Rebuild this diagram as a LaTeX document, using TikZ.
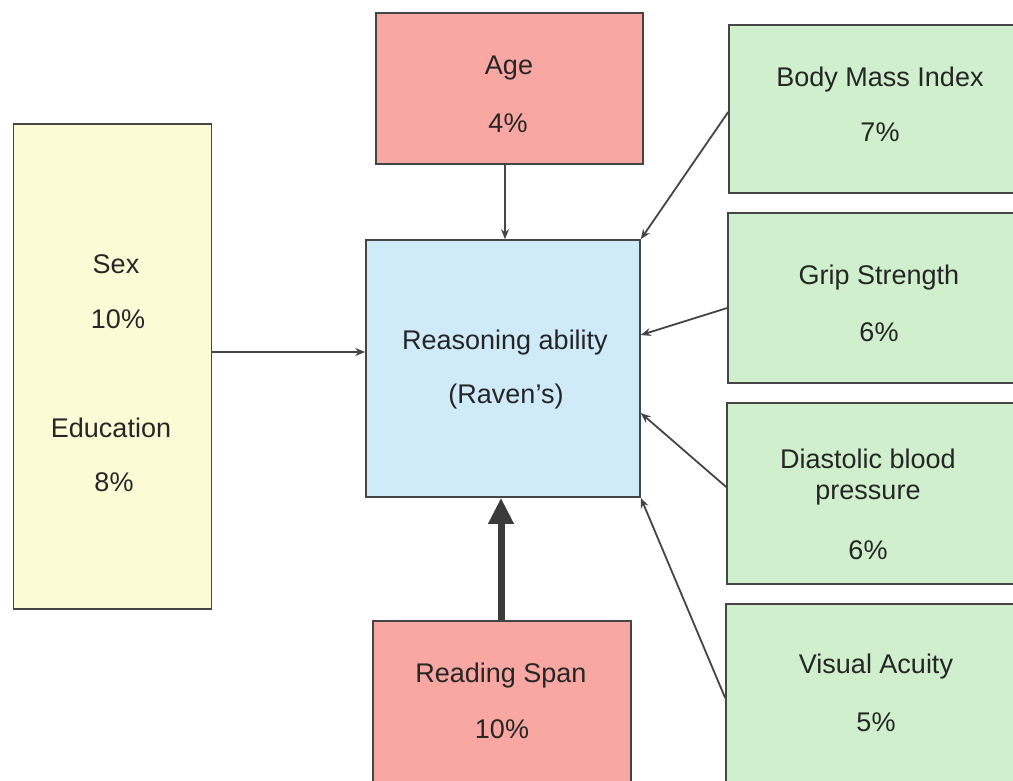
\documentclass[tikz,border=0pt]{standalone}
\usepackage{fontspec}
\setmainfont{Liberation Sans}
\usetikzlibrary{arrows.meta,calc}

\definecolor{edgegray}{HTML}{454545}
\definecolor{inkgray}{HTML}{262626}
\definecolor{pinkfill}{HTML}{F8A7A2}
\definecolor{greenfill}{HTML}{CFEFCD}
\definecolor{bluefill}{HTML}{CFEAF8}
\definecolor{yellowfill}{HTML}{FDFBD6}

\tikzset{
  box/.style={draw=edgegray, line width=1.6pt, rectangle, inner sep=0pt},
  label/.style={text=inkgray, font=\fontsize{27}{32}\selectfont, inner sep=0pt, anchor=center},
  link/.style={draw=edgegray, line width=1.8pt, -{Stealth[length=10pt,width=8pt]}},
  heavylink/.style={draw=edgegray!85!black, line width=7pt, -{Triangle[length=26pt,width=24pt]}}
}

\begin{document}
\begin{tikzpicture}[x=1pt,y=-1pt]
  \useasboundingbox (0,0) rectangle (1013,781);
  \clip (0,0) rectangle (1013,781);
  \fill[white] (0,0) rectangle (1013,781);

  % boxes (corner coordinates in picture units)
  \node[box, fill=yellowfill, minimum width=198pt, minimum height=485pt] (yellow) at (112.5,366.5) {};
  \node[box, fill=pinkfill, minimum width=267pt, minimum height=151pt] (age) at (509.5,88.5) {};
  \node[box, fill=bluefill, minimum width=274pt, minimum height=257pt] (reason) at (503,368.5) {};
  \node[box, fill=pinkfill, minimum width=258pt, minimum height=200pt] (reading) at (502,721) {};
  \node[box, fill=greenfill, minimum width=302pt, minimum height=168pt] (bmi) at (880,109) {};
  \node[box, fill=greenfill, minimum width=302pt, minimum height=170pt] (grip) at (879,298) {};
  \node[box, fill=greenfill, minimum width=304pt, minimum height=181pt] (dbp) at (879,493.5) {};
  \node[box, fill=greenfill, minimum width=305pt, minimum height=216pt] (visual) at (878.5,712) {};

  % texts
  \node[label] (sexT) at (116,264) {Sex};
  \node[label] (sexP) at (118,319) {10\%};
  \node[label] (eduT) at (111,428) {Education};
  \node[label] (eduP) at (114,482) {8\%};
  \node[label] (ageT) at (509,68) {Age};
  \node[label] (ageP) at (508,123) {4\%};
  \node[label] (reasT) at (505,343) {Reasoning ability};
  \node[label] (reasP) at (506,397) {(Raven’s)};
  \node[label] (readT) at (501,676) {Reading Span};
  \node[label] (readP) at (502,729) {10\%};
  \node[label] (bmiT) at (880,80) {Body Mass Index};
  \node[label] (bmiP) at (880,132) {7\%};
  \node[label] (gripT) at (879,278) {Grip Strength};
  \node[label] (gripP) at (879,332) {6\%};
  \node[label] (dbpT) at (868,459) {Diastolic blood};
  \node[label] (dbpM) at (868,495) {pressure};
  \node[label] (dbpP) at (868,550) {6\%};
  \node[label] (visT) at (876,667) {Visual Acuity};
  \node[label] (visP) at (876,722) {5\%};

  % connector anchor heights
  \coordinate (sexrow) at (0,352);
  \coordinate (bmirow) at (0,112);
  \coordinate (griprow) at (0,308);
  \coordinate (gripend) at (0,335);
  \coordinate (dbprow) at (0,487);
  \coordinate (dbpend) at (0,413);
  \coordinate (visrow) at (0,698);
  \coordinate (agecol) at (505,0);
  \coordinate (readcol) at (501,0);

  % connectors
  \draw[link] (yellow.east |- sexrow) -- (reason.west |- sexrow);
  \draw[link] (age.south -| agecol) -- (reason.north -| agecol);
  \draw[link] (bmi.west |- bmirow) -- (reason.north east);
  \draw[link] (grip.west |- griprow) -- (reason.east |- gripend);
  \draw[link] (dbp.west |- dbprow) -- (reason.east |- dbpend);
  \draw[link] (visual.west |- visrow) -- (reason.south east);
  \draw[heavylink] (reading.north -| readcol) -- (reason.south -| readcol);
\end{tikzpicture}
\end{document}
